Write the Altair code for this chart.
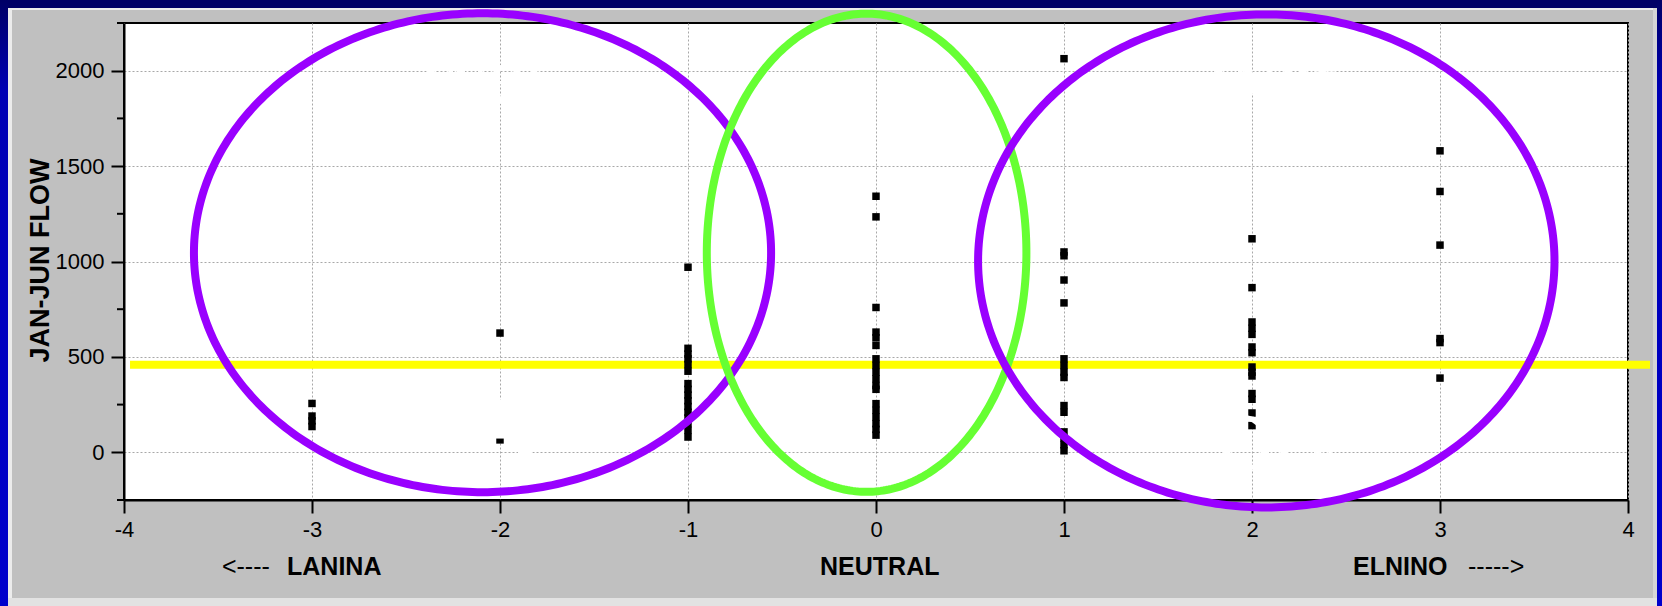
import altair as alt
import numpy as np
import pandas as pd

# ---------------- data ----------------
ENSO_CATEGORIES = [-3, -2, -1, 0, 1, 2, 3]
FLOW_M3 = [256, 190, 165, 135]
FLOW_M2 = [625, 65]
FLOW_M1 = [970, 545, 515, 490, 460, 425, 360, 330, 300, 270, 240, 210, 180, 150, 115, 80]
FLOW_0 = [1342, 1234, 759, 630, 600, 560, 490, 455, 420, 385, 350, 330, 255, 220, 185, 150, 120, 90]
FLOW_P1 = [2063, 1050, 1030, 903, 783, 490, 455, 420, 392, 245, 210, 107, 75, 40, 8]
FLOW_P2 = [1119, 863, 683, 650, 618, 552, 522, 447, 420, 400, 308, 278, 206, 140]
FLOW_P3 = [1580, 1367, 1086, 596, 575, 389]
FLOW_BY_CATEGORY = [FLOW_M3, FLOW_M2, FLOW_M1, FLOW_0, FLOW_P1, FLOW_P2, FLOW_P3]

X_TICKS = [-4, -3, -2, -1, 0, 1, 2, 3, 4]
Y_TICKS = [0, 500, 1000, 1500, 2000]
Y_MINOR_TICKS = [-250, 250, 750, 1250, 1750, 2250]
X_DOMAIN = [-4, 4]
Y_DOMAIN = [-250, 2250]

THRESHOLD_FLOW = 459
THRESHOLD_X = [-3.968, 4.117]

ELLIPSE_IDS = ["lanina", "neutral", "elnino"]
ELLIPSE_CX = [-2.093, -0.05, 2.076]
ELLIPSE_CY = [1046, 1046, 1003]
ELLIPSE_RX = [1.535, 0.85, 1.533]
ELLIPSE_RY = [1255, 1253, 1292]
ELLIPSE_COLORS = ["#9900FF", "#66FF33", "#9900FF"]

WORD_LABELS = ["Wet", "Dry", "Wet", "Dry"]
WORD_X = [-2.098, -2.037, 2.096, 2.14]
WORD_Y = [1827, 75, 1808, -99]

REGION_WORDS = ["LANINA", "ELNINO"]
REGION_WORD_X = [-3.133, 2.537]
REGION_ARROWS = ["<----", "----->"]
REGION_ARROW_X = [-3.479, 3.149]
REGION_MID_LABELS = ["NEUTRAL"]
REGION_MID_X = [0.02]

# ---------------- layout ----------------
W, H = 1504, 477
PAD = {"left": 124, "top": 23, "right": 34, "bottom": 106}

points = pd.DataFrame({
    "x": [c for c, vals in zip(ENSO_CATEGORIES, FLOW_BY_CATEGORY) for _ in vals],
    "y": [v for vals in FLOW_BY_CATEGORY for v in vals],
})

ell_rows = []
theta = np.linspace(0, 2 * np.pi, 361)
for eid, cx, cy, rx, ry in zip(ELLIPSE_IDS, ELLIPSE_CX, ELLIPSE_CY, ELLIPSE_RX, ELLIPSE_RY):
    for i, t in enumerate(theta):
        ell_rows.append({"id": eid, "i": i, "x": cx + rx * np.cos(t), "y": cy + ry * np.sin(t)})
ellipses = pd.DataFrame(ell_rows)

threshold = pd.DataFrame({"x": [THRESHOLD_X[0]], "x2": [THRESHOLD_X[1]], "y": [THRESHOLD_FLOW]})
words = pd.DataFrame({"x": WORD_X, "y": WORD_Y, "label": WORD_LABELS})
minor = pd.DataFrame({"y": Y_MINOR_TICKS})
side_words = pd.DataFrame({"x": REGION_WORD_X, "label": REGION_WORDS})
side_arrows = pd.DataFrame({"x": REGION_ARROW_X, "label": REGION_ARROWS})
mid_labels = pd.DataFrame({"x": REGION_MID_X, "label": REGION_MID_LABELS})

FONT = "Liberation Sans"
x_scale = alt.Scale(domain=X_DOMAIN, nice=False, zero=False)
y_scale = alt.Scale(domain=Y_DOMAIN, nice=False, zero=False)
x_axis = alt.Axis(
    values=X_TICKS, labelExpr="'' + datum.value", title=None, grid=True, gridColor="#A8A8A8",
    gridDash=[2, 2], gridWidth=1, labelFont=FONT, labelFontSize=22,
    labelColor="black", labelPadding=6, labelFlush=False, labelOverlap=False,
    tickSize=13, tickColor="black", tickWidth=2, domainColor="black", domainWidth=2,
)
y_axis = alt.Axis(
    values=Y_TICKS, labelExpr="'' + datum.value", title="JAN-JUN FLOW", grid=True, gridColor="#A8A8A8",
    gridDash=[2, 2], gridWidth=1, labelFont=FONT, labelFontSize=22,
    labelColor="black", labelPadding=7, labelFlush=False, labelOverlap=False,
    tickSize=13, tickColor="black", tickWidth=2, domainColor="black", domainWidth=2,
    titleFont=FONT, titleFontSize=27, titleFontWeight="bold", titleColor="black",
    titleAngle=270, titleAlign="center", titleBaseline="alphabetic",
    titleX=-76, titleY=237,
)
X = lambda: alt.X("x:Q", scale=x_scale, axis=x_axis)
Y = lambda: alt.Y("y:Q", scale=y_scale, axis=y_axis)


def deco_rect(x, x2, y, y2, fill):
    return alt.Chart(alt.Data(values=[{"k": 0}])).mark_rect(
        fill=fill, clip=False, strokeWidth=0
    ).encode(x=alt.value(x), x2=alt.value(x2), y=alt.value(y), y2=alt.value(y2))


edge_gradient = alt.LinearGradient(
    gradient="linear",
    stops=[alt.GradientStop(color="#000066", offset=0),
           alt.GradientStop(color="#0000B4", offset=0.15),
           alt.GradientStop(color="#0000CC", offset=1)],
    x1=0, x2=0, y1=0, y2=1,
)
L, T = PAD["left"], PAD["top"]
decor = [
    deco_rect(-L, 1662 - L, -T, 8 - T, "#000066"),
    deco_rect(-L, 8 - L, -T, 606 - T, edge_gradient),
    deco_rect(1657 - L, 1662 - L, -T, 606 - T, edge_gradient),
    deco_rect(8 - L, 1657 - L, 598 - T, 606 - T, "#E2E2E2"),
    deco_rect(8 - L, 12 - L, 8 - T, 598 - T, "#ECECEC"),
    deco_rect(8 - L, 1657 - L, 8 - T, 10 - T, "#ECECEC"),
    deco_rect(1653 - L, 1657 - L, 8 - T, 598 - T, "#D6D6D6"),
]

yellow = alt.Chart(threshold).mark_rule(color="#FFFF00", strokeWidth=8, clip=False).encode(
    x=X(), x2="x2:Q", y=Y()
)

pts = alt.Chart(points).mark_point(
    shape="square", filled=True, size=56, color="black", opacity=1
).encode(x=X(), y=Y())

word_marks = alt.Chart(words).mark_text(
    font="Liberation Serif", fontSize=84, color="white", baseline="alphabetic",
    align="center", clip=False
).encode(x=X(), y=Y(), text="label:N")

ell = alt.Chart(ellipses).mark_line(strokeWidth=8, clip=False).encode(
    x=X(), y=Y(), detail="id:N", order=alt.Order("i:Q"),
    color=alt.Color("id:N", scale=alt.Scale(domain=ELLIPSE_IDS, range=ELLIPSE_COLORS), legend=None),
)

minor_ticks = alt.Chart(minor).mark_rule(color="black", strokeWidth=2, clip=False).encode(
    x=alt.value(-7), x2=alt.value(0), y=Y()
)

side = alt.Chart(side_words).mark_text(
    font=FONT, fontSize=25, fontWeight="bold", color="black", align="left",
    baseline="alphabetic", clip=False
).encode(x=X(), y=alt.value(575 - T), text="label:N")

arrows = alt.Chart(side_arrows).mark_text(
    font=FONT, fontSize=25, fontWeight="normal", color="black", align="left",
    baseline="alphabetic", clip=False
).encode(x=X(), y=alt.value(575 - T), text="label:N")

mid = alt.Chart(mid_labels).mark_text(
    font=FONT, fontSize=25, fontWeight="bold", color="black", align="center",
    baseline="alphabetic", clip=False
).encode(x=X(), y=alt.value(575 - T), text="label:N")

chart = alt.layer(*decor, yellow, pts, word_marks, ell, minor_ticks, side, arrows, mid).properties(
    width=W, height=H,
    autosize=alt.AutoSizeParams(type="none"),
    padding=PAD,
).configure(background="#C0C0C0").configure_view(
    fill="white", stroke="black", strokeWidth=2
)

chart.save("out.html", embed_options={"renderer": "svg", "actions": False})
